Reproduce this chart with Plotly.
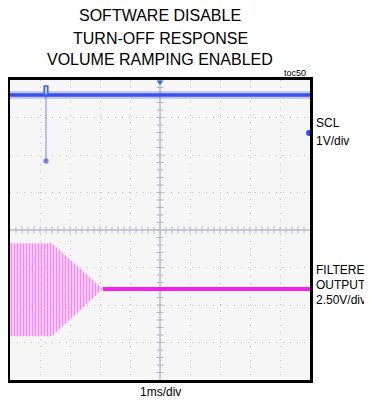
import plotly.graph_objects as go

# ---- data (time in ms, amplitude in divisions) ----
scl_time = [0.0, 10.0]
scl_level = [3.6, 3.6]
glitch_time = [1.2, 1.2]
glitch_level = [3.6, 1.84]

env_time = [0.0, 1.4, 3.1]
env_upper = [-0.35, -0.35, -1.57]
env_lower = [-2.83, -2.83, -1.57]
out_time = [3.1, 10.0]
out_level = [-1.57, -1.57]

title_lines = ["SOFTWARE DISABLE", "TURN-OFF RESPONSE", "VOLUME RAMPING ENABLED"]
x_label = "1ms/div"
ch1_label = ["SCL", "1V/div"]
ch2_label = ["FILTERED", "OUTPUT", "2.50V/div"]

# page body has an 8px default margin; compensate so the plot sits where the reference has it
OFF = 8
W, H = 372 - OFF, 402 - OFF
L, T = 10 - OFF, 80 - OFF
PW, PH = 300, 300
R = W - L - PW
B = H - T - PH

def py(p):  # page pixel y -> paper
    return (H - B - (p - OFF)) / PH

def px(p):  # page pixel x -> paper
    return (p - OFF - L) / PW

fig = go.Figure()

# centre-line tick marks
xt = [i * 0.2 for i in range(1, 50)]
yt = [-4 + i * 0.2 for i in range(1, 40)]
fig.add_trace(go.Scatter(x=xt, y=[0] * len(xt), mode="markers",
                         marker=dict(symbol="line-ns", size=5, line=dict(width=1, color="#b4b8c8")),
                         hoverinfo="skip", showlegend=False))
fig.add_trace(go.Scatter(x=[5] * len(yt), y=yt, mode="markers",
                         marker=dict(symbol="line-ew", size=5, line=dict(width=1, color="#b4b8c8")),
                         hoverinfo="skip", showlegend=False))

# filtered output envelope (streaked fill)
fig.add_trace(go.Scatter(
    x=env_time + env_time[::-1], y=env_upper + env_lower[::-1],
    fill="toself", mode="lines", line=dict(width=0, color="rgba(0,0,0,0)"),
    fillcolor="rgba(250,120,245,0.3)",
    fillpattern=dict(shape="|", size=3, solidity=0.5,
                     fgcolor="rgba(238,40,232,0.95)", bgcolor="rgba(255,200,250,0.5)",
                     fillmode="overlay"),
    hoverinfo="skip", showlegend=False))
fig.add_trace(go.Scatter(x=out_time, y=out_level, mode="lines",
                         line=dict(color="#f21ff0", width=4), showlegend=False))

# SCL
fig.add_trace(go.Scatter(x=glitch_time, y=glitch_level, mode="lines+markers",
                         line=dict(color="rgba(90,100,240,0.5)", width=1.5),
                         marker=dict(size=[0, 5], color="#4058e8"), showlegend=False))
fig.add_trace(go.Scatter(x=scl_time, y=scl_level, mode="lines",
                         line=dict(color="rgba(80,100,235,0.3)", width=8), showlegend=False))
fig.add_trace(go.Scatter(x=scl_time, y=scl_level, mode="lines",
                         line=dict(color="#3a50e8", width=3.5), showlegend=False))

# markers: trigger at top centre, channel marker at right
fig.add_trace(go.Scatter(x=[5], y=[3.95], mode="markers", cliponaxis=False,
                         marker=dict(symbol="triangle-down", size=6, color="#2a6ae8"),
                         showlegend=False))
fig.add_trace(go.Scatter(x=[9.97], y=[2.59], mode="markers", cliponaxis=False,
                         marker=dict(symbol="circle", size=6, color="#2a50e8"),
                         showlegend=False))

fig.add_shape(type="rect", x0=1.14, x1=1.26, y0=3.6, y1=3.84,
              line=dict(color="#3a60e8", width=1.5), fillcolor="rgba(170,200,255,0.8)")

# centre lines
fig.add_shape(type="line", x0=0, x1=10, y0=0, y1=0, line=dict(color="#b8bccc", width=1.5), layer="below")
fig.add_shape(type="line", x0=5, x1=5, y0=-4, y1=4, line=dict(color="#b8bccc", width=1.5), layer="below")

grid = dict(showgrid=True, gridcolor="#bdbdbd", gridwidth=1, griddash="1px,6px",
            zeroline=False, showticklabels=False, ticks="",
            showline=True, mirror=True, linecolor="black", linewidth=3)
fig.update_xaxes(range=[0, 10], dtick=1, tick0=0, **grid)
fig.update_yaxes(range=[-4, 4], dtick=1, tick0=-4, **grid)

ann = []
title_font = dict(family="Liberation Sans, Arial", size=16, color="black")
for txt, p in zip(title_lines, [16, 38, 59.5]):
    ann.append(dict(text=txt, x=px(160), y=py(p), xref="paper", yref="paper",
                    xanchor="center", yanchor="middle", showarrow=False, font=title_font))
lab_font = dict(family="Liberation Sans, Arial", size=12, color="black")
for txt, p in zip(ch1_label, [123, 141]):
    ann.append(dict(text=txt, x=px(314), y=py(p), xref="paper", yref="paper",
                    xanchor="left", yanchor="middle", showarrow=False, font=lab_font))
for txt, p in zip(ch2_label, [270, 285, 300]):
    ann.append(dict(text=txt, x=px(314), y=py(p), xref="paper", yref="paper",
                    xanchor="left", yanchor="middle", showarrow=False, font=lab_font))
ann.append(dict(text=x_label, x=px(160), y=py(392), xref="paper", yref="paper",
                xanchor="center", yanchor="middle", showarrow=False, font=lab_font))
ann.append(dict(text="toc50", x=px(308), y=py(73), xref="paper", yref="paper",
                xanchor="right", yanchor="middle", showarrow=False,
                font=dict(family="Liberation Sans, Arial", size=9, color="black")))

fig.update_layout(width=W, height=H, margin=dict(l=L, r=R, t=T, b=B),
                  paper_bgcolor="white", plot_bgcolor="#f6f6f6",
                  annotations=ann, showlegend=False)

fig.write_html("out.html")
